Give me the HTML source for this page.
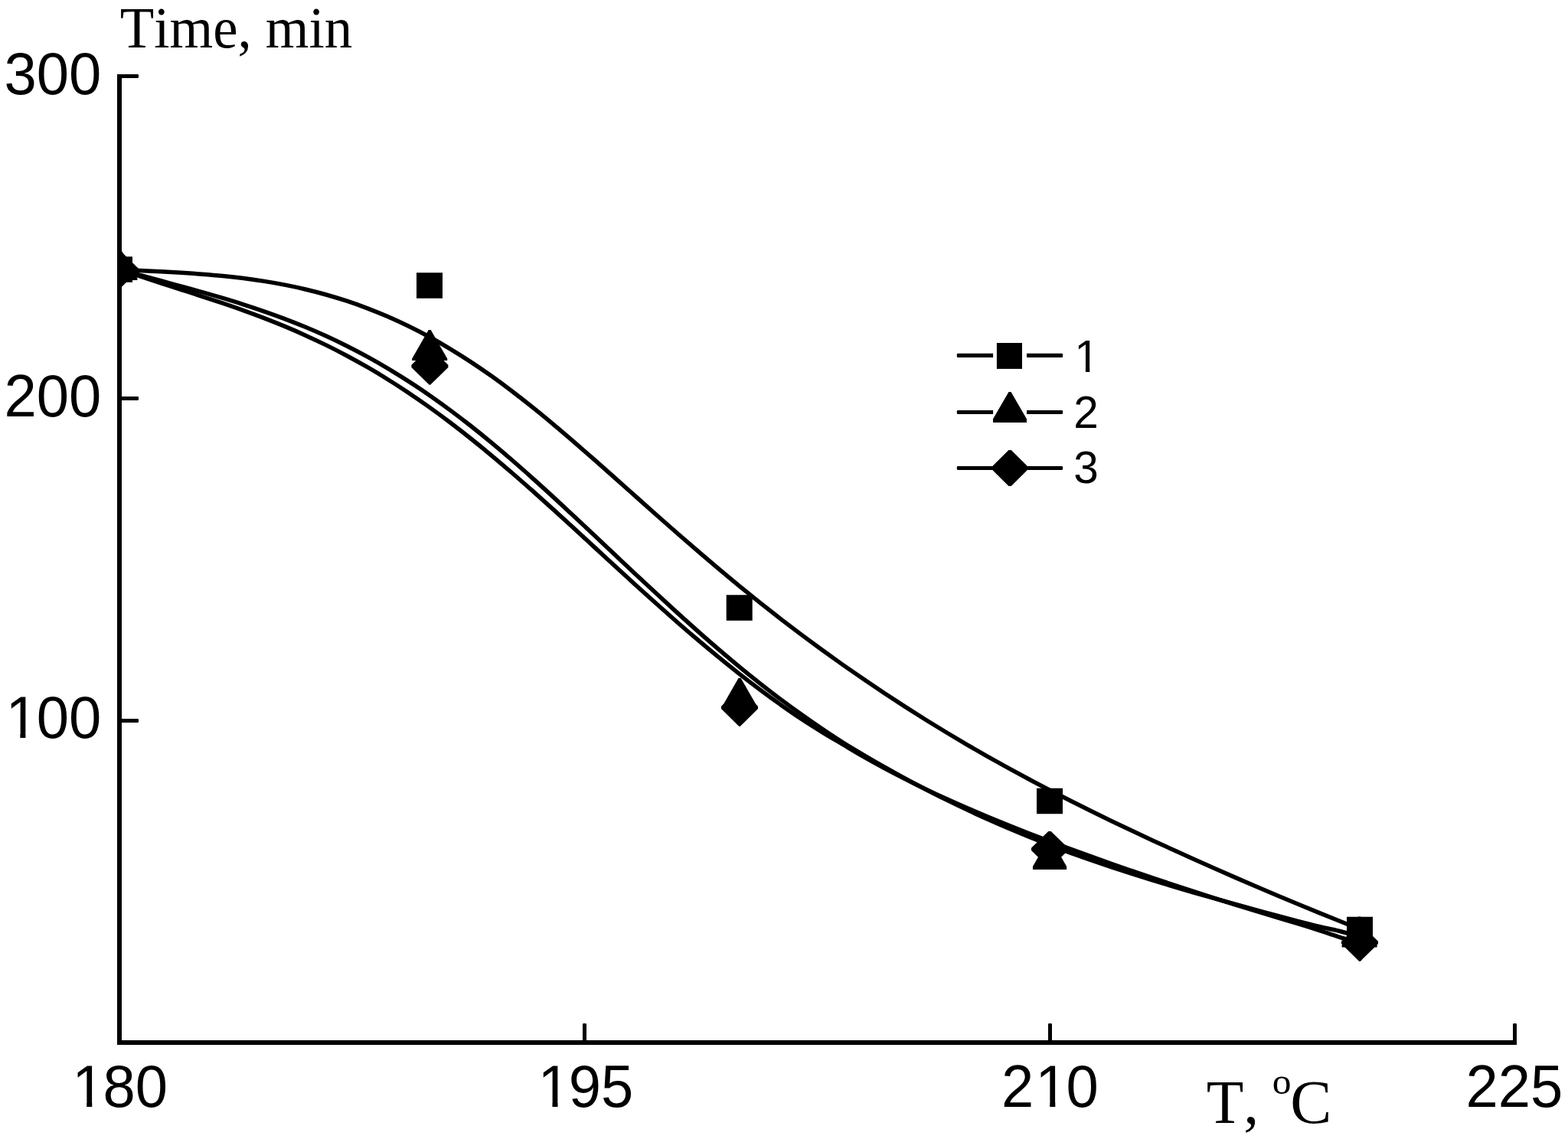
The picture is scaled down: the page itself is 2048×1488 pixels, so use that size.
<!DOCTYPE html>
<html lang="en">
<head>
<meta charset="utf-8">
<title>Time vs temperature chart</title>
<style>
html,body{margin:0;padding:0;background:#fff;}
body{width:2048px;height:1488px;overflow:hidden;}
svg{display:block;}
.sans{font-family:"Liberation Sans",Arial,Helvetica,sans-serif;}
.serif{font-family:"Liberation Serif","Times New Roman",Times,serif;}
text{fill:#000;font-kerning:none;}
</style>
</head>
<body>
<svg width="2048" height="1488" viewBox="0 0 2048 1488">
<rect width="2048" height="1488" fill="#fff"/>
<defs><clipPath id="plot"><rect x="153.00" y="0" width="2048.00" height="1365.00"/></clipPath></defs>
<g clip-path="url(#plot)">
<g fill="none" stroke="#000" stroke-width="5.50" stroke-linecap="round" stroke-linejoin="round">
<path d="M156.00 352.00 C160.50 352.23 174.00 352.95 183.00 353.41 C192.00 353.87 201.00 354.30 210.00 354.78 C219.00 355.26 228.00 355.74 237.00 356.30 C246.00 356.87 255.00 357.46 264.00 358.16 C273.00 358.87 282.00 359.63 291.00 360.53 C300.00 361.43 309.00 362.41 318.00 363.55 C327.00 364.70 336.00 365.95 345.00 367.39 C354.00 368.82 363.00 370.39 372.00 372.16 C381.00 373.93 390.00 375.85 399.00 377.99 C408.00 380.13 417.00 382.44 426.00 384.98 C435.00 387.52 444.00 390.26 453.00 393.23 C462.00 396.21 471.00 399.39 480.00 402.82 C489.00 406.25 498.00 409.91 507.00 413.82 C516.00 417.73 525.00 421.88 534.00 426.29 C543.00 430.70 552.00 435.35 561.00 440.27 C570.00 445.18 579.00 450.36 588.00 455.78 C597.00 461.21 606.00 466.90 615.00 472.83 C624.00 478.75 633.00 484.94 642.00 491.35 C651.00 497.75 660.00 504.41 669.00 511.24 C678.00 518.08 687.00 525.16 696.00 532.38 C705.00 539.60 714.00 547.03 723.00 554.57 C732.00 562.10 741.00 569.81 750.00 577.58 C759.00 585.35 768.00 593.25 777.00 601.17 C786.00 609.09 795.00 617.11 804.00 625.11 C813.00 633.11 822.00 641.16 831.00 649.17 C840.00 657.19 849.00 665.22 858.00 673.19 C867.00 681.16 876.00 689.12 885.00 696.99 C894.00 704.87 903.00 712.70 912.00 720.44 C921.00 728.18 930.00 735.86 939.00 743.43 C948.00 750.99 957.00 758.48 966.00 765.85 C975.00 773.23 984.00 780.50 993.00 787.67 C1002.00 794.83 1011.00 801.89 1020.00 808.84 C1029.00 815.79 1038.00 822.64 1047.00 829.38 C1056.00 836.12 1065.00 842.76 1074.00 849.30 C1083.00 855.84 1092.00 862.28 1101.00 868.62 C1110.00 874.96 1119.00 881.21 1128.00 887.36 C1137.00 893.51 1146.00 899.57 1155.00 905.53 C1164.00 911.50 1173.00 917.37 1182.00 923.15 C1191.00 928.94 1200.00 934.62 1209.00 940.23 C1218.00 945.83 1227.00 951.34 1236.00 956.77 C1245.00 962.20 1254.00 967.55 1263.00 972.81 C1272.00 978.07 1281.00 983.25 1290.00 988.35 C1299.00 993.45 1308.00 998.47 1317.00 1003.41 C1326.00 1008.36 1335.00 1013.23 1344.00 1018.04 C1353.00 1022.84 1362.00 1027.57 1371.00 1032.24 C1380.00 1036.91 1389.00 1041.51 1398.00 1046.06 C1407.00 1050.60 1416.00 1055.09 1425.00 1059.52 C1434.00 1063.95 1443.00 1068.33 1452.00 1072.66 C1461.00 1077.00 1470.00 1081.28 1479.00 1085.52 C1488.00 1089.77 1497.00 1093.97 1506.00 1098.14 C1515.00 1102.31 1524.00 1106.44 1533.00 1110.54 C1542.00 1114.65 1551.00 1118.71 1560.00 1122.75 C1569.00 1126.79 1578.00 1130.80 1587.00 1134.77 C1596.00 1138.75 1605.00 1142.70 1614.00 1146.62 C1623.00 1150.53 1632.00 1154.42 1641.00 1158.28 C1650.00 1162.14 1659.00 1165.96 1668.00 1169.76 C1677.00 1173.55 1686.00 1177.32 1695.00 1181.05 C1704.00 1184.78 1713.00 1188.48 1722.00 1192.14 C1731.00 1195.80 1740.00 1199.43 1749.00 1203.02 C1758.00 1206.60 1771.50 1211.88 1776.00 1213.66"/>
<path d="M156.00 352.00 C160.50 353.22 174.00 356.86 183.00 359.32 C192.00 361.78 201.00 364.30 210.00 366.77 C219.00 369.25 228.00 371.67 237.00 374.14 C246.00 376.62 255.00 379.09 264.00 381.64 C273.00 384.19 282.00 386.77 291.00 389.46 C300.00 392.15 309.00 394.90 318.00 397.79 C327.00 400.67 336.00 403.64 345.00 406.78 C354.00 409.91 363.00 413.15 372.00 416.58 C381.00 420.00 390.00 423.56 399.00 427.32 C408.00 431.07 417.00 434.99 426.00 439.11 C435.00 443.23 444.00 447.53 453.00 452.04 C462.00 456.56 471.00 461.26 480.00 466.19 C489.00 471.12 498.00 476.26 507.00 481.62 C516.00 486.99 525.00 492.57 534.00 498.37 C543.00 504.18 552.00 510.21 561.00 516.45 C570.00 522.70 579.00 529.18 588.00 535.86 C597.00 542.53 606.00 549.44 615.00 556.52 C624.00 563.61 633.00 570.91 642.00 578.37 C651.00 585.83 660.00 593.50 669.00 601.28 C678.00 609.07 687.00 617.04 696.00 625.10 C705.00 633.16 714.00 641.37 723.00 649.63 C732.00 657.90 741.00 666.28 750.00 674.68 C759.00 683.08 768.00 691.56 777.00 700.03 C786.00 708.50 795.00 717.03 804.00 725.51 C813.00 733.99 822.00 742.49 831.00 750.92 C840.00 759.35 849.00 767.77 858.00 776.09 C867.00 784.41 876.00 792.70 885.00 800.86 C894.00 809.02 903.00 817.12 912.00 825.07 C921.00 833.02 930.00 840.88 939.00 848.58 C948.00 856.28 957.00 863.85 966.00 871.26 C975.00 878.67 984.00 885.94 993.00 893.04 C1002.00 900.14 1011.00 907.12 1020.00 913.88 C1029.00 920.63 1038.00 927.17 1047.00 933.58 C1056.00 940.00 1065.00 946.29 1074.00 952.37 C1083.00 958.45 1092.00 964.41 1101.00 970.06 C1110.00 975.72 1119.00 981.01 1128.00 986.33 C1137.00 991.64 1146.00 996.87 1155.00 1001.98 C1164.00 1007.09 1173.00 1012.10 1182.00 1016.97 C1191.00 1021.85 1200.00 1026.59 1209.00 1031.23 C1218.00 1035.87 1227.00 1040.38 1236.00 1044.83 C1245.00 1049.27 1254.00 1053.63 1263.00 1057.87 C1272.00 1062.11 1281.00 1066.25 1290.00 1070.28 C1299.00 1074.30 1308.00 1078.21 1317.00 1082.04 C1326.00 1085.87 1335.00 1089.62 1344.00 1093.27 C1353.00 1096.92 1362.00 1100.48 1371.00 1103.95 C1380.00 1107.41 1389.00 1110.78 1398.00 1114.07 C1407.00 1117.36 1416.00 1120.54 1425.00 1123.67 C1434.00 1126.79 1443.00 1129.83 1452.00 1132.83 C1461.00 1135.83 1470.00 1138.79 1479.00 1141.67 C1488.00 1144.55 1497.00 1147.34 1506.00 1150.11 C1515.00 1152.88 1524.00 1155.61 1533.00 1158.30 C1542.00 1160.99 1551.00 1163.64 1560.00 1166.24 C1569.00 1168.85 1578.00 1171.40 1587.00 1173.94 C1596.00 1176.48 1605.00 1178.99 1614.00 1181.48 C1623.00 1183.97 1632.00 1186.42 1641.00 1188.89 C1650.00 1191.35 1659.00 1193.84 1668.00 1196.27 C1677.00 1198.70 1686.00 1201.15 1695.00 1203.47 C1704.00 1205.79 1713.00 1208.08 1722.00 1210.21 C1731.00 1212.34 1740.00 1214.05 1749.00 1216.25 C1758.00 1218.46 1771.50 1222.25 1776.00 1223.44"/>
<path d="M156.00 352.00 C160.50 353.50 174.00 358.01 183.00 360.99 C192.00 363.98 201.00 366.96 210.00 369.89 C219.00 372.82 228.00 375.67 237.00 378.56 C246.00 381.45 255.00 384.32 264.00 387.26 C273.00 390.20 282.00 393.14 291.00 396.20 C300.00 399.26 309.00 402.36 318.00 405.59 C327.00 408.83 336.00 412.14 345.00 415.61 C354.00 419.08 363.00 422.66 372.00 426.41 C381.00 430.16 390.00 434.05 399.00 438.13 C408.00 442.20 417.00 446.43 426.00 450.87 C435.00 455.30 444.00 459.90 453.00 464.71 C462.00 469.53 471.00 474.53 480.00 479.74 C489.00 484.95 498.00 490.35 507.00 495.97 C516.00 501.59 525.00 507.41 534.00 513.44 C543.00 519.47 552.00 525.71 561.00 532.13 C570.00 538.56 579.00 545.20 588.00 552.02 C597.00 558.83 606.00 565.85 615.00 573.02 C624.00 580.19 633.00 587.56 642.00 595.05 C651.00 602.55 660.00 610.22 669.00 617.98 C678.00 625.75 687.00 633.68 696.00 641.67 C705.00 649.65 714.00 657.77 723.00 665.91 C732.00 674.06 741.00 682.30 750.00 690.54 C759.00 698.79 768.00 707.09 777.00 715.37 C786.00 723.65 795.00 731.96 804.00 740.22 C813.00 748.48 822.00 756.74 831.00 764.92 C840.00 773.10 849.00 781.25 858.00 789.30 C867.00 797.34 876.00 805.34 885.00 813.20 C894.00 821.06 903.00 828.83 912.00 836.46 C921.00 844.08 930.00 851.60 939.00 858.94 C948.00 866.29 957.00 873.51 966.00 880.55 C975.00 887.60 984.00 894.48 993.00 901.20 C1002.00 907.93 1011.00 914.52 1020.00 920.89 C1029.00 927.25 1038.00 933.47 1047.00 939.41 C1056.00 945.35 1065.00 951.00 1074.00 956.54 C1083.00 962.08 1092.00 967.31 1101.00 972.65 C1110.00 977.99 1119.00 983.45 1128.00 988.59 C1137.00 993.73 1146.00 998.68 1155.00 1003.50 C1164.00 1008.32 1173.00 1012.97 1182.00 1017.53 C1191.00 1022.09 1200.00 1026.53 1209.00 1030.87 C1218.00 1035.20 1227.00 1039.43 1236.00 1043.54 C1245.00 1047.64 1254.00 1051.61 1263.00 1055.52 C1272.00 1059.43 1281.00 1063.25 1290.00 1067.01 C1299.00 1070.77 1308.00 1074.46 1317.00 1078.08 C1326.00 1081.70 1335.00 1085.23 1344.00 1088.72 C1353.00 1092.22 1362.00 1095.64 1371.00 1099.03 C1380.00 1102.42 1389.00 1105.77 1398.00 1109.09 C1407.00 1112.40 1416.00 1115.69 1425.00 1118.93 C1434.00 1122.18 1443.00 1125.39 1452.00 1128.55 C1461.00 1131.71 1470.00 1134.80 1479.00 1137.90 C1488.00 1140.99 1497.00 1144.07 1506.00 1147.10 C1515.00 1150.13 1524.00 1153.11 1533.00 1156.08 C1542.00 1159.04 1551.00 1161.97 1560.00 1164.88 C1569.00 1167.79 1578.00 1170.69 1587.00 1173.55 C1596.00 1176.41 1605.00 1179.25 1614.00 1182.06 C1623.00 1184.87 1632.00 1187.67 1641.00 1190.42 C1650.00 1193.17 1659.00 1195.85 1668.00 1198.56 C1677.00 1201.27 1686.00 1203.92 1695.00 1206.67 C1704.00 1209.42 1713.00 1212.18 1722.00 1215.07 C1731.00 1217.97 1740.00 1221.25 1749.00 1224.02 C1758.00 1226.79 1771.50 1230.41 1776.00 1231.69"/>
</g>
<g fill="#000">
<rect x="139.00" y="335.25" width="34.00" height="33.50"/>
<rect x="544.00" y="356.25" width="34.00" height="33.50"/>
<rect x="948.70" y="777.25" width="34.00" height="33.50"/>
<rect x="1354.00" y="1029.75" width="34.00" height="33.50"/>
<rect x="1759.00" y="1197.75" width="34.00" height="33.50"/>
<polygon points="154.90,326.00 157.90,326.00 179.40,363.60 179.40,366.00 133.40,366.00 133.40,363.60"/>
<polygon points="559.70,430.90 562.70,430.90 584.20,468.50 584.20,470.90 538.20,470.90 538.20,468.50"/>
<polygon points="964.60,885.70 967.60,885.70 989.10,923.30 989.10,925.70 943.10,925.70 943.10,923.30"/>
<polygon points="1369.55,1095.90 1372.55,1095.90 1393.15,1132.10 1393.15,1135.90 1348.95,1135.90 1348.95,1132.10"/>
<polygon points="1774.10,1197.60 1777.10,1197.60 1798.60,1235.20 1798.60,1237.60 1752.60,1237.60 1752.60,1235.20"/>
<polygon points="154.80,328.50 158.20,328.50 180.50,350.40 180.50,353.60 157.20,376.50 155.80,376.50 132.50,353.60 132.50,350.40"/>
<polygon points="559.70,454.80 563.10,454.80 585.40,476.70 585.40,479.90 562.10,502.80 560.70,502.80 537.40,479.90 537.40,476.70"/>
<polygon points="964.30,900.95 967.70,900.95 990.00,922.85 990.00,926.05 966.70,948.95 965.30,948.95 942.00,926.05 942.00,922.85"/>
<polygon points="1369.30,1085.95 1372.70,1085.95 1395.00,1107.85 1395.00,1111.05 1371.70,1133.95 1370.30,1133.95 1347.00,1111.05 1347.00,1107.85"/>
<polygon points="1774.30,1207.90 1777.70,1207.90 1800.00,1229.80 1800.00,1233.00 1776.70,1255.90 1775.30,1255.90 1752.00,1233.00 1752.00,1229.80"/>
</g>
</g>
<g fill="none" stroke="#000" stroke-linecap="butt">
<path d="M156.00 97.00 V1362.00 H1981.00" stroke-width="6.00" stroke-linejoin="miter"/>
</g>
<g fill="#000">
<path d="M156.00 97.00H179.70Q181.00 97.00 181.00 98.30V100.70Q181.00 102.00 179.70 102.00H156.00V97.00Z"/>
<path d="M156.00 518.00H179.70Q181.00 518.00 181.00 519.30V521.70Q181.00 523.00 179.70 523.00H156.00V518.00Z"/>
<path d="M156.00 939.00H179.70Q181.00 939.00 181.00 940.30V942.70Q181.00 944.00 179.70 944.00H156.00V939.00Z"/>
<path d="M762.30 1336.90H764.70Q766.00 1336.90 766.00 1338.20V1362.00H761.00V1338.20Q761.00 1336.90 762.30 1336.90Z"/>
<path d="M1370.30 1336.90H1372.70Q1374.00 1336.90 1374.00 1338.20V1362.00H1369.00V1338.20Q1369.00 1336.90 1370.30 1336.90Z"/>
<path d="M1977.30 1336.90H1979.70Q1981.00 1336.90 1981.00 1338.20V1362.00H1976.00V1338.20Q1976.00 1336.90 1977.30 1336.90Z"/>
</g>
<g fill="#000">
<path d="M1251.15 461.85H1297.10V466.95H1251.15Q1249.85 466.95 1249.85 465.65V463.15Q1249.85 461.85 1251.15 461.85Z"/>
<path d="M1341.00 461.85H1386.80Q1388.10 461.85 1388.10 463.15V465.65Q1388.10 466.95 1386.80 466.95H1341.00V461.85Z"/>
<path d="M1251.15 535.95H1297.10V541.05H1251.15Q1249.85 541.05 1249.85 539.75V537.25Q1249.85 535.95 1251.15 535.95Z"/>
<path d="M1341.00 535.95H1386.80Q1388.10 535.95 1388.10 537.25V539.75Q1388.10 541.05 1386.80 541.05H1341.00V535.95Z"/>
<path d="M1251.15 608.95H1386.80Q1388.10 608.95 1388.10 610.25V612.75Q1388.10 614.05 1386.80 614.05H1251.15Q1249.85 614.05 1249.85 612.75V610.25Q1249.85 608.95 1251.15 608.95Z"/>
<rect x="1301.90" y="448.00" width="33.10" height="33.90"/>
<polygon points="1317.50,512.00 1320.50,512.00 1340.95,547.30 1340.95,551.90 1297.05,551.90 1297.05,547.30"/>
<polygon points="1317.40,587.90 1320.80,587.90 1341.45,608.40 1341.45,614.40 1320.80,634.90 1317.40,634.90 1296.75,614.40 1296.75,608.40"/>
</g>
<defs><clipPath id="k2"><rect x="0.49" y="-66.30" width="46.50" height="59.27"/><rect x="21.51" y="-7.83" width="7.20" height="10.17"/><rect x="45.33" y="-66.30" width="40.65" height="85.80"/><rect x="88.71" y="-66.30" width="40.65" height="85.80"/></clipPath><clipPath id="k3"><rect x="0.49" y="-66.30" width="46.50" height="59.27"/><rect x="21.51" y="-7.83" width="7.20" height="10.17"/><rect x="45.33" y="-66.30" width="40.65" height="85.80"/><rect x="88.71" y="-66.30" width="40.65" height="85.80"/></clipPath><clipPath id="k4"><rect x="0.49" y="-66.30" width="46.50" height="59.27"/><rect x="21.51" y="-7.83" width="7.20" height="10.17"/><rect x="45.33" y="-66.30" width="40.65" height="85.80"/><rect x="88.71" y="-66.30" width="40.65" height="85.80"/></clipPath><clipPath id="k5"><rect x="1.95" y="-66.30" width="40.65" height="85.80"/><rect x="43.87" y="-66.30" width="46.50" height="59.27"/><rect x="64.89" y="-7.83" width="7.20" height="10.17"/><rect x="88.71" y="-66.30" width="40.65" height="85.80"/></clipPath><clipPath id="k9"><rect x="-1.20" y="-51.00" width="35.77" height="45.32"/><rect x="14.97" y="-6.48" width="5.54" height="8.28"/></clipPath></defs>
<text class="sans" font-size="78" transform="translate(5.40 123.40) scale(0.9750 1.0030)">300</text>
<text class="sans" font-size="78" transform="translate(5.40 544.00) scale(0.9750 1.0030)">200</text>
<text class="sans" font-size="78" transform="translate(5.40 964.00) scale(0.9750 1.0030)" clip-path="url(#k2)"><tspan dx="2.05">1</tspan><tspan dx="-2.05">0</tspan>0</text>
<text class="sans" font-size="78" transform="translate(92.25 1446.20) scale(0.9750 1.0030)" clip-path="url(#k3)"><tspan dx="2.05">1</tspan><tspan dx="-2.05">8</tspan>0</text>
<text class="sans" font-size="78" transform="translate(700.50 1446.20) scale(0.9750 1.0030)" clip-path="url(#k4)"><tspan dx="2.05">1</tspan><tspan dx="-2.05">9</tspan>5</text>
<text class="sans" font-size="78" transform="translate(1308.00 1446.20) scale(0.9750 1.0030)" clip-path="url(#k5)">2<tspan dx="2.05">1</tspan><tspan dx="-2.05">0</tspan></text>
<text class="sans" font-size="78" transform="translate(1914.50 1446.20) scale(0.9750 1.0030)">225</text>
<text class="serif" font-size="75.7" transform="translate(156.80 62.00) scale(0.9620 1.0000)">Time, min</text>
<text class="serif" font-size="79.5" transform="translate(0.00 0.00) scale(1.0000 1.0000)"><tspan x="1575.80" y="1466.70" font-size="79.5">T, </tspan><tspan x="1661.80" y="1429.00" font-size="49.5">o</tspan><tspan x="1685.30" y="1467.10" font-size="81">C</tspan></text>
<text class="sans" font-size="60" transform="translate(1403.30 486.05) scale(0.9750 1.0000)" clip-path="url(#k9)">1</text>
<text class="sans" font-size="60" transform="translate(1402.20 558.75) scale(0.9750 1.0000)">2</text>
<text class="sans" font-size="60" transform="translate(1402.20 631.45) scale(0.9750 1.0000)">3</text>
</svg>
</body>
</html>
